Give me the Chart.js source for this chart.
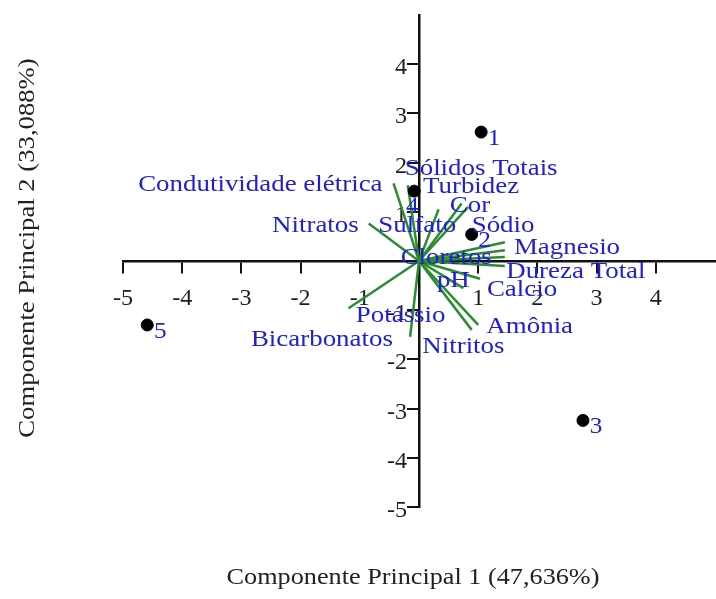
<!DOCTYPE html>
<html>
<head>
<meta charset="utf-8">
<script src="https://cdn.jsdelivr.net/npm/chart.js@4.4.0/dist/chart.umd.min.js"></script>
<style>
html,body{margin:0;background:#fff;overflow:hidden}
#wrap{width:716px;height:599px;overflow:hidden}
</style>
</head>
<body>
<div id="wrap"><canvas id="mycanvas" width="722" height="599"></canvas></div>
<script>
// sample scores (points)
var obsNames = ['1', '2', '3', '4', '5'];
var obsX = [1.05, 0.89, 2.77, -0.08, -4.59];
var obsY = [2.62, 0.54, -3.24, 1.42, -1.30];

// variable loadings (green vectors) and where their names sit
var varNames = ['Condutividade elétrica', 'Sólidos Totais', 'Nitratos', 'Sulfato', 'Turbidez', 'Cor',
                'Sódio', 'Magnesio', 'Cloretos', 'Dureza Total', 'Calcio', 'pH',
                'Amônia', 'Nitritos', 'Bicarbonatos', 'Potássio'];
var varX = [-0.43, -0.19, -0.85, 0.33, 0.72, 0.83, 1.45, 1.45, 1.45, 1.45, 1.03, 0.75, 1.00, 0.89, -0.15, -1.19];
var varY = [1.58, 1.54, 0.76, 1.05, 1.17, 1.10, 0.38, 0.22, 0.08, -0.10, -0.36, -0.55, -1.30, -1.40, -1.54, -0.96];
var labelX = [-2.68, 1.05, -1.75, -0.03, 0.88, 0.86, 1.42, 2.50, 0.46, 2.65, 1.74, 0.58, 1.87, 0.75, -1.64, -0.31];
var labelY = [1.54, 1.87, 0.71, 0.71, 1.50, 1.12, 0.71, 0.26, 0.06, -0.22, -0.59, -0.41, -1.34, -1.74, -1.60, -1.12];

var xTicks = [-5, -4, -3, -2, -1, 1, 2, 3, 4];
var yTicks = [-5, -4, -3, -2, -1, 1, 2, 3, 4];

var xTitle = 'Componente Principal 1 (47,636%)';
var yTitle = 'Componente Principal 2 (33,088%)';

var serif = "'Liberation Serif', 'Times New Roman', serif";
var blue = '#2020d2';
var green = '#2b8c30';

function stretchText(ctx, txt, x, y, sx, rot) {
  ctx.save();
  ctx.translate(x, y);
  if (rot) ctx.rotate(rot);
  ctx.scale(sx, 1);
  ctx.fillText(txt, 0, 0);
  ctx.restore();
}

// tick numbers sit beside the axes that cross at the origin
var tickNumbers = {
  id: 'tickNumbers',
  beforeDatasetsDraw: function(chart) {
    var ctx = chart.ctx, xs = chart.scales.x, ys = chart.scales.y;
    var ox = xs.getPixelForValue(0), oy = ys.getPixelForValue(0);
    ctx.save();
    ctx.font = '23px ' + serif;
    ctx.fillStyle = '#1e1e1e';
    ctx.textBaseline = 'alphabetic';
    ctx.textAlign = 'center';
    xTicks.forEach(function(v) {
      stretchText(ctx, String(v), xs.getPixelForValue(v), oy + 44, 1.05);
    });
    ctx.textAlign = 'right';
    yTicks.forEach(function(v) {
      stretchText(ctx, String(v), ox - 12, ys.getPixelForValue(v) + 10, 1.05);
    });
    ctx.restore();
  }
};

var biplotLabels = {
  id: 'biplotLabels',
  afterDatasetsDraw: function(chart) {
    var ctx = chart.ctx, xs = chart.scales.x, ys = chart.scales.y, ca = chart.chartArea;
    ctx.save();
    ctx.font = '23px ' + serif;
    ctx.fillStyle = blue;
    ctx.textAlign = 'center';
    ctx.textBaseline = 'middle';
    for (var i = 0; i < varNames.length; i++) {
      stretchText(ctx, varNames[i], xs.getPixelForValue(labelX[i]), ys.getPixelForValue(labelY[i]), 1.17);
    }
    for (var j = 0; j < obsNames.length; j++) {
      var off = j == 3 ? [-2, 16] : [13, 7];
      stretchText(ctx, obsNames[j], xs.getPixelForValue(obsX[j]) + off[0], ys.getPixelForValue(obsY[j]) + off[1], 1.1);
    }
    // axis titles
    ctx.fillStyle = '#222';
    stretchText(ctx, xTitle, 413, 578, 1.14);
    stretchText(ctx, yTitle, 28, (ca.top + ca.bottom) / 2 - 13, 1.16, -Math.PI / 2);
    ctx.restore();
  }
};

var datasets = [{
  data: obsX.map(function(v, i) { return {x: v, y: obsY[i]}; }),
  pointRadius: 6,
  backgroundColor: '#000',
  borderColor: '#000',
  showLine: false
}];
for (var i = 0; i < varNames.length; i++) {
  datasets.push({
    data: [{x: 0, y: 0}, {x: varX[i], y: varY[i]}],
    borderColor: green,
    borderWidth: 2.5,
    pointRadius: 0,
    showLine: true
  });
}

var ctx = document.getElementById('mycanvas');
var chart = new Chart(ctx, {
  type: 'scatter',
  data: {datasets: datasets},
  options: {
    responsive: false,
    animation: false,
    layout: {padding: {left: 123, top: 15, right: 0, bottom: 92}},
    plugins: {legend: {display: false}, tooltip: {enabled: false}},
    scales: {
      x: {
        type: 'linear', min: -5, max: 5, position: {y: 0},
        afterBuildTicks: function(s) { s.ticks = xTicks.map(function(v) { return {value: v}; }); },
        grid: {drawOnChartArea: false, drawTicks: true, tickLength: 11, color: '#111', lineWidth: 2},
        border: {display: true, color: '#111', width: 2.5},
        ticks: {display: false}
      },
      y: {
        type: 'linear', min: -5, max: 5, position: {x: 0},
        afterBuildTicks: function(s) { s.ticks = yTicks.map(function(v) { return {value: v}; }); },
        grid: {drawOnChartArea: false, drawTicks: true, tickLength: 11, color: '#111', lineWidth: 2},
        border: {display: true, color: '#111', width: 2.5},
        ticks: {display: false}
      }
    }
  },
  plugins: [tickNumbers, biplotLabels]
});
</script>
</body>
</html>
